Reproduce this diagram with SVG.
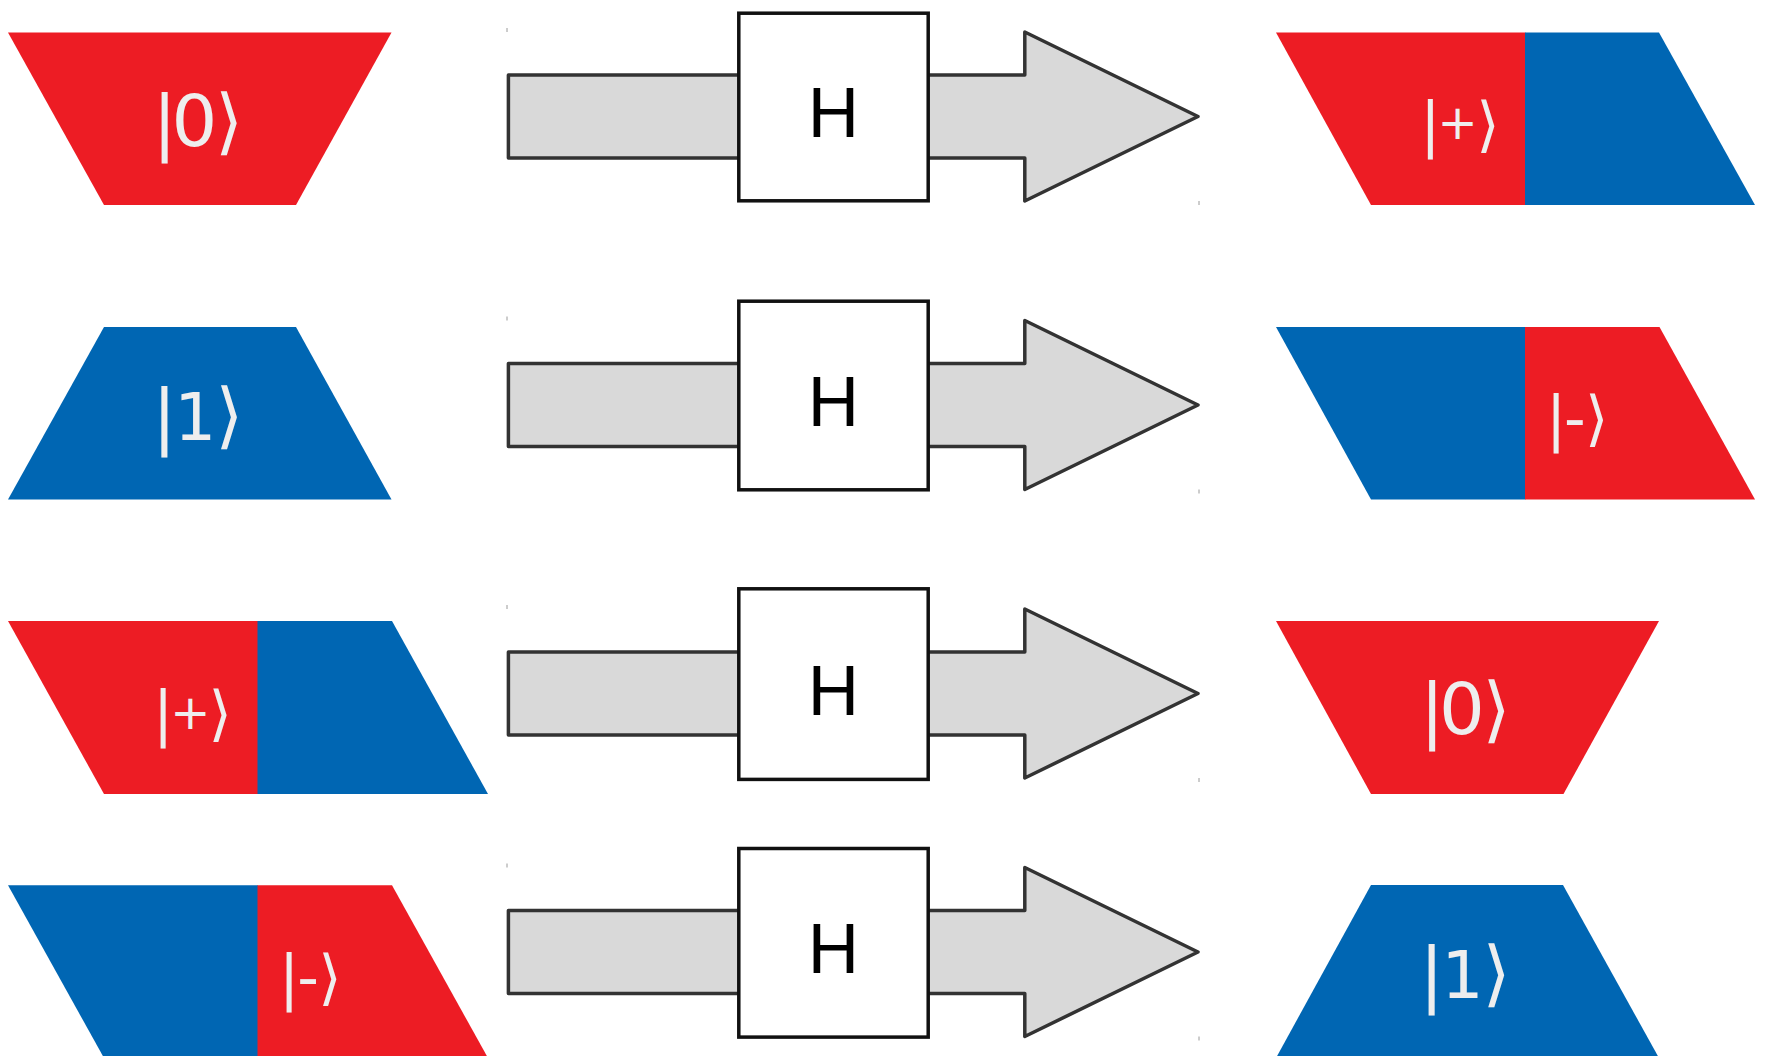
<svg xmlns="http://www.w3.org/2000/svg" width="1765" height="1056" viewBox="0 0 1765 1056">
  <style>
    .red { fill: #ED1C24; }
    .blue { fill: #0066B3; }
    .ket { font-family: "DejaVu Sans", "Liberation Sans", sans-serif; fill: #EEEEEE; }
    .big { font-size: 72px; }
    .small { font-size: 60px; }
    .one { font-size: 66px; }
    .plus { font-size: 48px; }
    .gate rect { fill: #FFFFFF; stroke: #111111; stroke-width: 3.5; }
    .gate text { font-family: "Liberation Sans", "DejaVu Sans", sans-serif; font-size: 71px; fill: #000000; text-anchor: middle; }
    .flow { fill: #D9D9D9; stroke: #333333; stroke-width: 3.5; stroke-linejoin: round; }
    .tick { stroke: #9A9A9A; stroke-width: 1; }
  </style>
  <defs>
    <!-- block arrow shared by every row -->
    <g id="blockArrow">
      <polygon class="flow" points="508.4,75 1024.8,75 1024.8,32 1198,116.5 1024.8,201 1024.8,158 508.4,158"/>
      <line class="tick" x1="507" y1="28" x2="507" y2="32"/>
      <line class="tick" x1="1199" y1="201" x2="1199" y2="205"/>
    </g>
  </defs>

  <!-- arrows carrying each input state through its gate -->
  <g id="connectors">
    <use href="#blockArrow"/>
    <use href="#blockArrow" transform="translate(0,288.5)"/>
    <use href="#blockArrow" transform="translate(0,577)"/>
    <use href="#blockArrow" transform="translate(0,835.5)"/>
  </g>

  <!-- input states -->
  <g id="in-zero">
    <polygon class="red" points="8,32.5 391.5,32.5 296,205 104,205"/>
    <text class="ket big" x="152.4" y="145.5" dx="0 -5.1 -2.4">|0⟩</text>
  </g>
  <g id="in-one">
    <polygon class="blue" points="104,327 296,327 391.5,499.5 8,499.5"/>
    <text class="ket big" x="152.2" y="439.5" dx="0 -2.3 -0.9">|<tspan class="one">1</tspan>⟩</text>
  </g>
  <g id="in-plus">
    <polygon class="red" points="8,621 258,621 258,794 104,794"/>
    <polygon class="blue" points="257.5,621 392,621 488,794 257.5,794"/>
    <text class="ket small" x="152.9" y="733.5" dx="0 -2.9 -1.9" dy="0 -4.5 4.5">|<tspan class="plus">+</tspan>⟩</text>
  </g>
  <g id="in-minus">
    <polygon class="blue" points="8,885.3 258,885.3 258,1058 104,1058"/>
    <polygon class="red" points="257.5,885.3 392,885.3 488,1058 257.5,1058"/>
    <text class="ket small" x="279.1" y="997.5" dx="0 -2.1 -0.6">|-⟩</text>
  </g>

  <!-- Hadamard gates -->
  <g id="gate-1" class="gate">
    <rect x="738.8" y="13.2" width="189.4" height="187.6"/>
    <text x="833.5" y="136.7">H</text>
  </g>
  <g id="gate-2" class="gate">
    <rect x="738.8" y="301.2" width="189.4" height="188.6"/>
    <text x="833.5" y="426">H</text>
  </g>
  <g id="gate-3" class="gate">
    <rect x="738.8" y="588.8" width="189.4" height="190.6"/>
    <text x="833.5" y="715">H</text>
  </g>
  <g id="gate-4" class="gate">
    <rect x="738.8" y="848.5" width="189.4" height="188.6"/>
    <text x="833.5" y="972.7">H</text>
  </g>

  <!-- output states -->
  <g id="out-plus">
    <polygon class="red" points="1276,32.5 1525.5,32.5 1525.5,205 1371,205"/>
    <polygon class="blue" points="1525,32.5 1659,32.5 1755,205 1525,205"/>
    <text class="ket small" x="1420.3" y="144.5" dx="0 -3.0 -1.5" dy="0 -6 6">|<tspan class="plus">+</tspan>⟩</text>
  </g>
  <g id="out-minus">
    <polygon class="blue" points="1276,327 1525.5,327 1525.5,499.5 1371,499.5"/>
    <polygon class="red" points="1525,327 1659.5,327 1755,499.5 1525,499.5"/>
    <text class="ket small" x="1545.9" y="439" dx="0 -2.1 -0.7">|-⟩</text>
  </g>
  <g id="out-zero">
    <polygon class="red" points="1276,621 1659,621 1563.5,794 1371,794"/>
    <text class="ket big" x="1419.9" y="734" dx="0 -5.1 -2.4">|0⟩</text>
  </g>
  <g id="out-one">
    <polygon class="blue" points="1371,885 1563,885 1659,1058 1276,1058"/>
    <text class="ket big" x="1419.4" y="998" dx="0 -2.2 -1">|<tspan class="one">1</tspan>⟩</text>
  </g>
</svg>
